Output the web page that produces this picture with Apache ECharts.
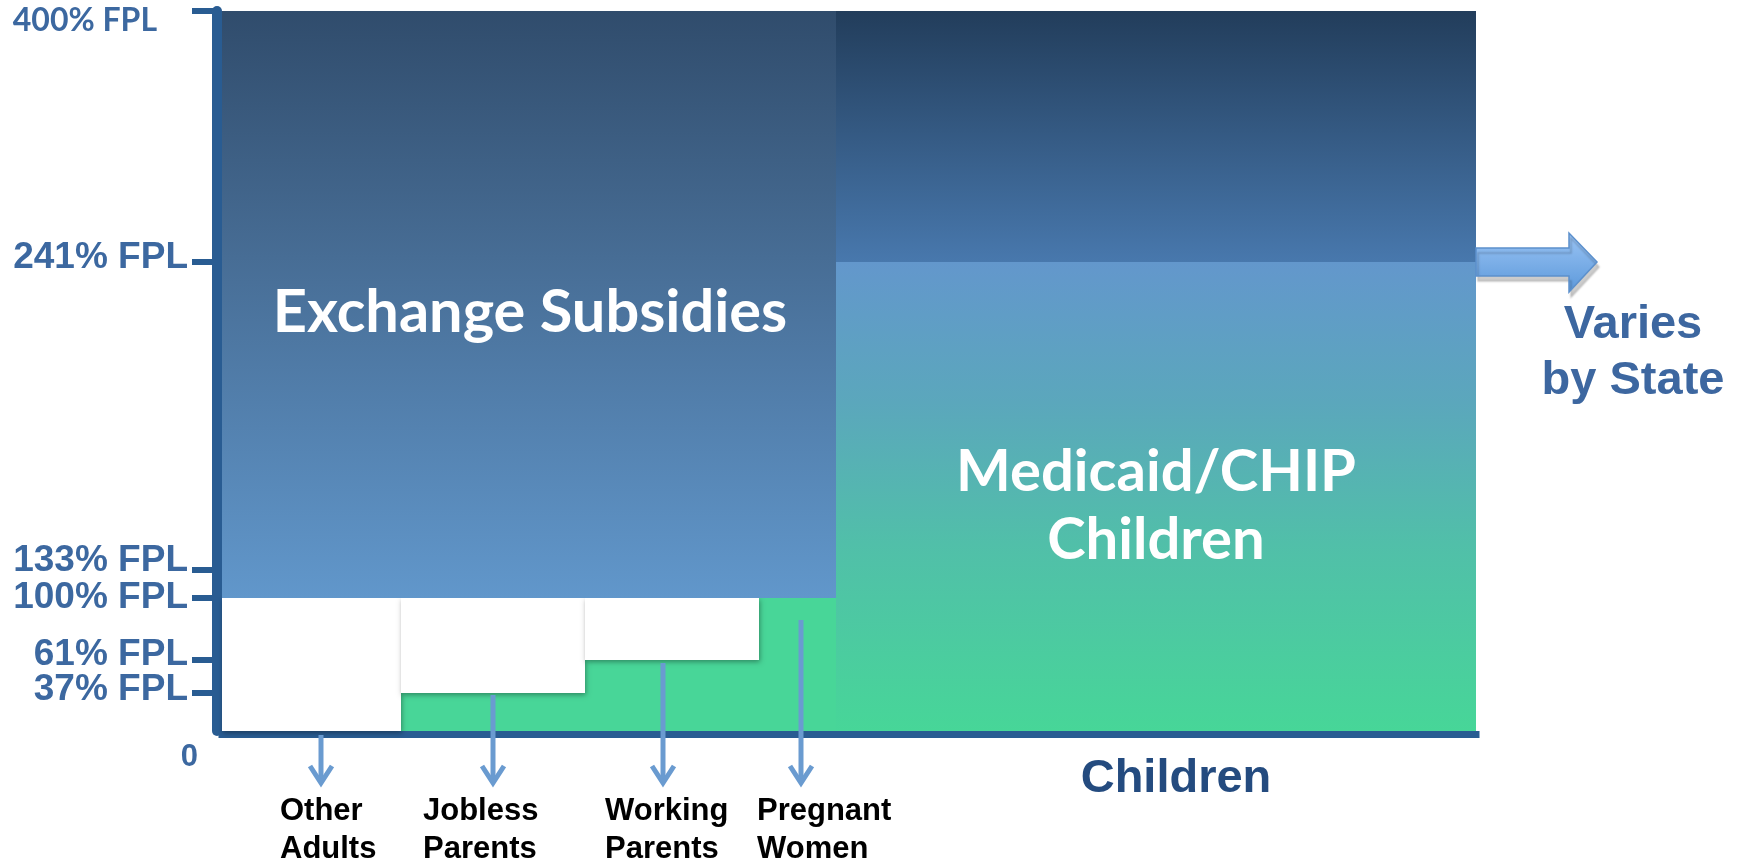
<!DOCTYPE html>
<html><head><meta charset="utf-8">
<script src="https://cdn.jsdelivr.net/npm/echarts@6/dist/echarts.min.js"></script>
<style>html,body{margin:0;padding:0;background:#fff}#c{width:1737px;height:862px}</style>
</head><body><div id="c"></div>
<script>
// ---------------- data ----------------
const groups = ['Other\nAdults', 'Jobless\nParents', 'Working\nParents', 'Pregnant\nWomen', 'Children'];
const medicaidLimit = [0, 37, 61, 100, 241];          // Medicaid/CHIP eligibility, % FPL
const exchangeLower = 100;                             // exchange subsidies start, % FPL
const exchangeUpper = 400;                             // exchange subsidies end, % FPL
const fplTicks = [0, 37, 61, 100, 133, 241, 400];
const fplTickLabels = ['0', '37% FPL', '61% FPL', '100% FPL', '133% FPL', '241% FPL', '400% FPL'];

// ---------------- layout (schematic, non-linear FPL axis & column geometry) ----------------
const tickPos = [0, 38, 71, 133, 161, 469, 720];      // axis units where each FPL tick sits
const colEdges = [0, 179, 363, 537, 614, 1254];       // x-axis units of column boundaries
const arrowX = [99, 271, 441, 579];
const arrowStartOffset = [4, 2, 3, 22];
const labelLeft = [58, 201, 383, 535];
const childrenLabelX = 954;

function scaleY(v) {
  for (let i = 0; i < fplTicks.length - 1; i++) {
    if (v <= fplTicks[i + 1]) {
      return tickPos[i] + (v - fplTicks[i]) / (fplTicks[i + 1] - fplTicks[i]) * (tickPos[i + 1] - tickPos[i]);
    }
  }
  return tickPos[tickPos.length - 1];
}

const medicaidData = groups.map((g, i) => [colEdges[i], colEdges[i + 1], scaleY(0), scaleY(medicaidLimit[i]), i]);
const gapData = groups.map((g, i) => [colEdges[i], colEdges[i + 1], scaleY(medicaidLimit[i]), scaleY(exchangeLower), i])
  .filter((d, i) => medicaidLimit[i] < exchangeLower);
// merge adjacent columns that share the same exchange lower bound
const exchangeData = [];
groups.forEach((g, i) => {
  const lo = Math.max(medicaidLimit[i], exchangeLower);
  const last = exchangeData[exchangeData.length - 1];
  if (last && last[5] === lo) { last[1] = colEdges[i + 1]; }
  else exchangeData.push([colEdges[i], colEdges[i + 1], scaleY(lo), scaleY(exchangeUpper), i, lo]);
});

const AXIS_COLOR = '#295C92';
const LABEL_COLOR = '#3C68A0';
const G = echarts.graphic;
const gradExchange = new G.LinearGradient(0, 0, 0, 1, [
  { offset: 0, color: '#304C6C' }, { offset: 0.42, color: '#476D95' }, { offset: 1, color: '#6197CB' }]);
const gradChildTop = new G.LinearGradient(0, 0, 0, 1, [
  { offset: 0, color: '#223D5B' }, { offset: 1, color: '#4878AD' }]);
const gradMedicaid = new G.LinearGradient(0, 0, 0, 1, [
  { offset: 0, color: '#6397CC' }, { offset: 0.3, color: '#5BA7BC' }, { offset: 0.6, color: '#51BFA9' }, { offset: 1, color: '#47D698' }]);

function rectShape(api) {
  const a = api.coord([api.value(0), api.value(3)]);
  const b = api.coord([api.value(1), api.value(2)]);
  return { x: a[0], y: a[1], width: b[0] - a[0], height: b[1] - a[1] };
}

const chart = echarts.init(document.getElementById('c'));
const richBase = { fontFamily: 'Liberation Sans, Arial, sans-serif', fontWeight: 'bold', fontSize: 37, color: LABEL_COLOR };
chart.setOption({
  animation: false,
  grid: { left: 222, right: 261, top: 11, bottom: 131 },
  xAxis: {
    type: 'value', min: 0, max: 1254, offset: 3.5,
    axisLine: { show: true, onZero: false, lineStyle: { color: AXIS_COLOR, width: 7, cap: 'square' } },
    axisTick: { show: false }, axisLabel: { show: false }, splitLine: { show: false }
  },
  yAxis: {
    type: 'value', min: 0, max: 720, offset: 5,
    axisLine: { show: true, onZero: false, lineStyle: { color: AXIS_COLOR, width: 10 } },
    axisTick: { show: true, customValues: tickPos.slice(1), length: 25, lineStyle: { color: AXIS_COLOR, width: 6 } },
    splitLine: { show: false },
    axisLabel: {
      customValues: tickPos, margin: 19,
      formatter: function (v) {
        const i = tickPos.findIndex(p => Math.abs(p - v) < 1e-6);
        return '{s' + i + '|' + fplTickLabels[i] + '}';
      },
      rich: {
        s0: Object.assign({}, richBase, { fontSize: 31, padding: [52, 0, 0, 0] }),
        s1: Object.assign({}, richBase, { padding: [0, 10, 6, 0] }),
        s2: Object.assign({}, richBase, { padding: [0, 10, 10, 0] }),
        s3: Object.assign({}, richBase, { padding: [0, 10, 0, 0] }),
        s4: Object.assign({}, richBase, { padding: [0, 10, 18, 0] }),
        s5: Object.assign({}, richBase, { padding: [0, 10, 9, 0] }),
        s6: Object.assign({}, richBase, { fontFamily: 'Lato, sans-serif', fontSize: 32, padding: [19, 41, 0, 0] })
      }
    }
  },
  series: [
    { // Medicaid / CHIP eligibility
      name: 'Medicaid/CHIP', type: 'custom', z: 2, data: medicaidData,
      renderItem: function (params, api) {
        const i = api.value(4);
        const shape = rectShape(api);
        const children = [{ type: 'rect', shape, style: { fill: i === 4 ? gradMedicaid : '#48D698' } }];
        if (i === 4) {
          children.push({
            type: 'text', style: {
              text: 'Medicaid/CHIP\nChildren', x: shape.x + shape.width / 2, y: shape.y + shape.height / 2 + 10,
              align: 'center', verticalAlign: 'middle', fill: '#fff',
              fontFamily: 'Lato, sans-serif', fontWeight: 'bold', fontSize: 58, lineHeight: 68
            }
          });
        }
        return { type: 'group', children };
      }
    },
    { // not covered
      name: 'Gap', type: 'custom', z: 3, data: gapData,
      renderItem: function (params, api) {
        return { type: 'rect', shape: rectShape(api),
          style: { fill: '#fff', shadowBlur: 5, shadowColor: 'rgba(0,0,0,0.35)', shadowOffsetX: 1, shadowOffsetY: 2 } };
      }
    },
    { // exchange subsidies
      name: 'Exchange Subsidies', type: 'custom', z: 4, data: exchangeData,
      renderItem: function (params, api) {
        const shape = rectShape(api);
        const isChild = api.value(5) > exchangeLower;
        const children = [{ type: 'rect', shape, style: { fill: isChild ? gradChildTop : gradExchange } }];
        if (!isChild) {
          children.push({
            type: 'text', style: {
              text: 'Exchange Subsidies', x: shape.x + shape.width / 2 + 1, y: shape.y + shape.height / 2 + 8,
              align: 'center', verticalAlign: 'middle', fill: '#fff',
              fontFamily: 'Lato, sans-serif', fontWeight: 'bold', fontSize: 59.5
            }
          });
        } else {
          // "varies by state" arrow at the children's Medicaid/CHIP limit
          const yc = api.coord([0, scaleY(medicaidLimit[4])])[1];
          const x0 = shape.x + shape.width;
          children.push({
            type: 'polygon', z2: 5,
            shape: { points: [[x0, yc - 14], [x0 + 93, yc - 14], [x0 + 93, yc - 29], [x0 + 121, yc], [x0 + 93, yc + 30], [x0 + 93, yc + 14], [x0, yc + 14]] },
            style: {
              fill: new G.LinearGradient(0, 0, 0, 1, [{ offset: 0, color: '#9CC5F5' }, { offset: 1, color: '#5B98DA' }]),
              stroke: '#5C90CC', lineWidth: 1.5,
              shadowColor: 'rgba(0,0,0,0.2)', shadowOffsetY: 5, shadowOffsetX: 2, shadowBlur: 2
            }
          });
          children.push({
            type: 'text', style: {
              text: 'Varies\nby State', x: x0 + 157, y: yc + 91, align: 'center', verticalAlign: 'middle',
              fill: '#3D67A0', fontFamily: 'Liberation Sans, Arial, sans-serif', fontWeight: 'bold', fontSize: 47, lineHeight: 56
            }
          });
        }
        return { type: 'group', children };
      }
    },
    { // group pointers and labels
      name: 'Groups', type: 'custom', z: 10,
      data: groups.map((g, i) => [i < 4 ? arrowX[i] : childrenLabelX, scaleY(medicaidLimit[i]), i]),
      renderItem: function (params, api) {
        const i = api.value(2);
        const base = api.coord([0, 0])[1];
        if (i === 4) {
          const p = api.coord([api.value(0), 0]);
          return { type: 'text', style: {
            text: groups[i], x: p[0], y: base + 48, align: 'center', verticalAlign: 'middle',
            fill: '#244B7F', fontFamily: 'Liberation Sans, Arial, sans-serif', fontWeight: 'bold', fontSize: 47 } };
        }
        const p = api.coord([api.value(0), api.value(1)]);
        const startY = p[1] + arrowStartOffset[i];
        const tipY = base + 54;
        const lx = api.coord([labelLeft[i], 0])[0];
        const stroke = { stroke: '#6A9BD0', lineWidth: 5 };
        return { type: 'group', children: [
          { type: 'line', shape: { x1: p[0], y1: startY, x2: p[0], y2: tipY - 3 }, style: stroke },
          { type: 'polyline', shape: { points: [[p[0] - 11, tipY - 19], [p[0], tipY - 2], [p[0] + 11, tipY - 19]] },
            style: Object.assign({ fill: null, lineJoin: 'miter' }, stroke) },
          { type: 'text', style: {
            text: groups[i], x: lx, y: base + 99, align: 'left', verticalAlign: 'middle', fill: '#000',
            fontFamily: 'Liberation Sans, Arial, sans-serif', fontWeight: 'bold', fontSize: 31, lineHeight: 38 } }
        ] };
      }
    }
  ]
});
</script>
</body></html>
